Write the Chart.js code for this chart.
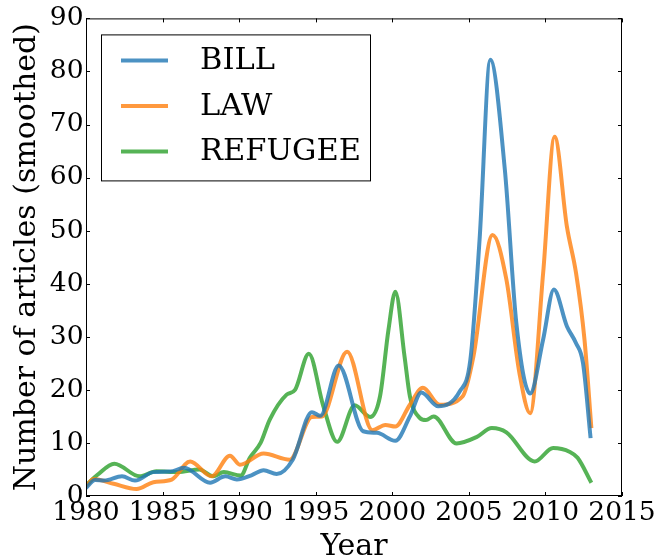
<!DOCTYPE html>
<html>
<head>
<meta charset="utf-8">
<script src="https://cdn.jsdelivr.net/npm/chart.js@4"></script>
<style>
  body { margin: 0; background: #fff; }
  #wrap { width: 660px; height: 559px; }
</style>
</head>
<body>
<div id="wrap"><canvas id="chart" width="660" height="559"></canvas></div>
<script>
// values (year, smoothed article count)
const billYears = [1980.0, 1980.6, 1981.2, 1982.35, 1983.2, 1984.4, 1985.5, 1986.4, 1988.1, 1989.1, 1989.85, 1990.8, 1991.6, 1992.45, 1993.5, 1994.75, 1995.3, 1996.5, 1998.1, 1999.0, 2000.2, 2001.15, 2001.9, 2003.0, 2004.4, 2005.1, 2005.7, 2006.4, 2007.35, 2008.1, 2009.0, 2009.85, 2010.55, 2011.4, 2012.0, 2012.45, 2012.95];
const billCounts = [1.5, 3.0, 2.9, 3.7, 2.9, 4.5, 4.6, 5.3, 2.5, 3.7, 3.1, 3.9, 4.85, 4.15, 6.85, 15.8, 15.1, 24.6, 12.2, 11.9, 10.4, 15.0, 19.5, 16.9, 19.7, 25.7, 48.3, 82.2, 61.5, 32.6, 19.3, 29.5, 38.9, 32.0, 28.8, 25.1, 10.9];

const lawYears = [1980.0, 1980.5, 1981.8, 1983.3, 1984.4, 1985.6, 1986.8, 1988.2, 1989.4, 1990.05, 1991.6, 1993.3, 1994.75, 1995.4, 1997.05, 1998.7, 1999.55, 2000.2, 2001.15, 2002.0, 2003.1, 2004.6, 2005.3, 2006.55, 2007.45, 2008.3, 2009.0, 2009.85, 2010.6, 2011.4, 2012.0, 2012.55, 2013.0];
const lawCounts = [1.8, 3.2, 2.3, 1.3, 2.6, 3.1, 6.5, 3.7, 7.6, 5.9, 8.0, 6.85, 14.9, 15.0, 27.2, 12.4, 13.4, 13.1, 17.2, 20.4, 17.2, 18.8, 26.3, 49.2, 40.8, 23.2, 15.6, 42.0, 67.7, 50.8, 42.0, 29.5, 12.8];

const refugeeYears = [1980.0, 1980.75, 1981.85, 1983.5, 1984.6, 1986.0, 1987.4, 1988.3, 1989.0, 1990.1, 1990.7, 1991.4, 1992.0, 1993.1, 1993.65, 1994.55, 1995.5, 1996.4, 1997.55, 1998.55, 1999.2, 1999.75, 2000.2, 2000.8, 2001.15, 2001.8, 2002.2, 2002.7, 2004.2, 2005.5, 2006.5, 2007.45, 2009.3, 2010.5, 2011.6, 2012.1, 2013.0];
const refugeeCounts = [2.0, 4.0, 6.1, 3.7, 4.65, 4.5, 5.0, 3.7, 4.5, 3.85, 7.2, 10.0, 14.4, 19.1, 20.0, 26.8, 16.9, 10.2, 17.1, 14.9, 18.8, 31.3, 38.5, 26.3, 18.8, 14.7, 14.3, 15.0, 9.9, 11.1, 12.8, 12.0, 6.5, 9.05, 8.3, 7.2, 2.5];

const seriesNames = ['BILL', 'LAW', 'REFUGEE'];
const xTicks = [1980, 1985, 1990, 1995, 2000, 2005, 2010, 2015];
const yTicks = [0, 10, 20, 30, 40, 50, 60, 70, 80, 90];

const FONT = 'DejaVu Serif';
const colors = ['rgba(31,119,180,0.8)', 'rgba(255,127,14,0.8)', 'rgba(44,160,44,0.8)'];

const toPoints = (xs, ys) => xs.map((x, i) => ({ x: x, y: ys[i] }));
const allSeries = [
  toPoints(billYears, billCounts),
  toPoints(lawYears, lawCounts),
  toPoints(refugeeYears, refugeeCounts),
];

// matplotlib style frame with inward ticks on all four sides
const framePlugin = {
  id: 'frame',
  afterDraw(chart) {
    const { ctx, chartArea: a, scales } = chart;
    const len = 4;
    ctx.save();
    ctx.strokeStyle = '#000';
    ctx.lineWidth = 1;
    ctx.strokeRect(a.left + 0.5, a.top + 0.5, a.right - a.left - 1, a.bottom - a.top - 1);
    ctx.beginPath();
    xTicks.forEach(v => {
      const px = Math.round(scales.x.getPixelForValue(v)) + 0.5;
      ctx.moveTo(px, a.bottom); ctx.lineTo(px, a.bottom - len);
      ctx.moveTo(px, a.top); ctx.lineTo(px, a.top + len);
    });
    yTicks.forEach(v => {
      const py = Math.round(scales.y.getPixelForValue(v)) + 0.5;
      ctx.moveTo(a.left, py); ctx.lineTo(a.left + len, py);
      ctx.moveTo(a.right, py); ctx.lineTo(a.right - len, py);
    });
    ctx.stroke();
    ctx.restore();
  }
};

// legend box in the upper left of the plot
const legendPlugin = {
  id: 'boxLegend',
  afterDraw(chart) {
    const { ctx, chartArea: a } = chart;
    const left = a.left + 15, top = a.top + 16;
    const w = 269, h = 146;
    ctx.save();
    ctx.fillStyle = '#fff';
    ctx.fillRect(left, top, w, h);
    ctx.strokeStyle = '#000';
    ctx.lineWidth = 1;
    ctx.strokeRect(left + 0.5, top + 0.5, w, h);
    ctx.font = '30.5px "' + FONT + '"';
    ctx.textBaseline = 'middle';
    ctx.fillStyle = '#000';
    chart.data.datasets.forEach((ds, i) => {
      const y = top + 26 + i * 45.5;
      ctx.strokeStyle = ds.borderColor;
      ctx.lineWidth = 4;
      ctx.beginPath();
      ctx.moveTo(left + 20, y);
      ctx.lineTo(left + 67, y);
      ctx.stroke();
      ctx.fillText(ds.label, left + 99, y + 1);
    });
    ctx.restore();
  }
};

new Chart(document.getElementById('chart'), {
  type: 'line',
  data: {
    datasets: allSeries.map((pts, i) => ({
      label: seriesNames[i],
      data: pts,
      borderColor: colors[i],
      borderWidth: 4,
      pointRadius: 0,
      fill: false,
      cubicInterpolationMode: 'monotone',
    })),
  },
  options: {
    responsive: false,
    animation: false,
    layout: { padding: { top: 18, right: 38, bottom: 0, left: 0 } },
    plugins: { legend: { display: false }, tooltip: { enabled: false } },
    scales: {
      x: {
        type: 'linear',
        min: 1980,
        max: 2015,
        afterBuildTicks: s => { s.ticks = xTicks.map(v => ({ value: v })); },
        afterFit: s => { s.height = 63; },
        grid: { display: false, drawTicks: false },
        border: { display: false },
        ticks: { color: '#000', font: { family: FONT, size: 26.5 }, padding: 1, maxRotation: 0, autoSkip: false, callback: v => String(v) },
        title: { display: true, text: 'Year', color: '#000', font: { family: FONT, size: 30, lineHeight: 1.0 }, padding: { top: 0, bottom: -3 } },
      },
      y: {
        min: 0,
        max: 90,
        afterBuildTicks: s => { s.ticks = yTicks.map(v => ({ value: v })); },
        afterFit: s => { s.width = 86; },
        grid: { display: false, drawTicks: false },
        border: { display: false },
        ticks: { color: '#000', font: { family: FONT, size: 26.5 }, padding: 2.5, autoSkip: false },
        title: { display: true, text: 'Number of articles (smoothed)', color: '#000', font: { family: FONT, size: 30, lineHeight: 1.0 }, padding: { top: 12, bottom: 0 } },
      },
    },
  },
  plugins: [framePlugin, legendPlugin],
});
</script>
</body>
</html>
